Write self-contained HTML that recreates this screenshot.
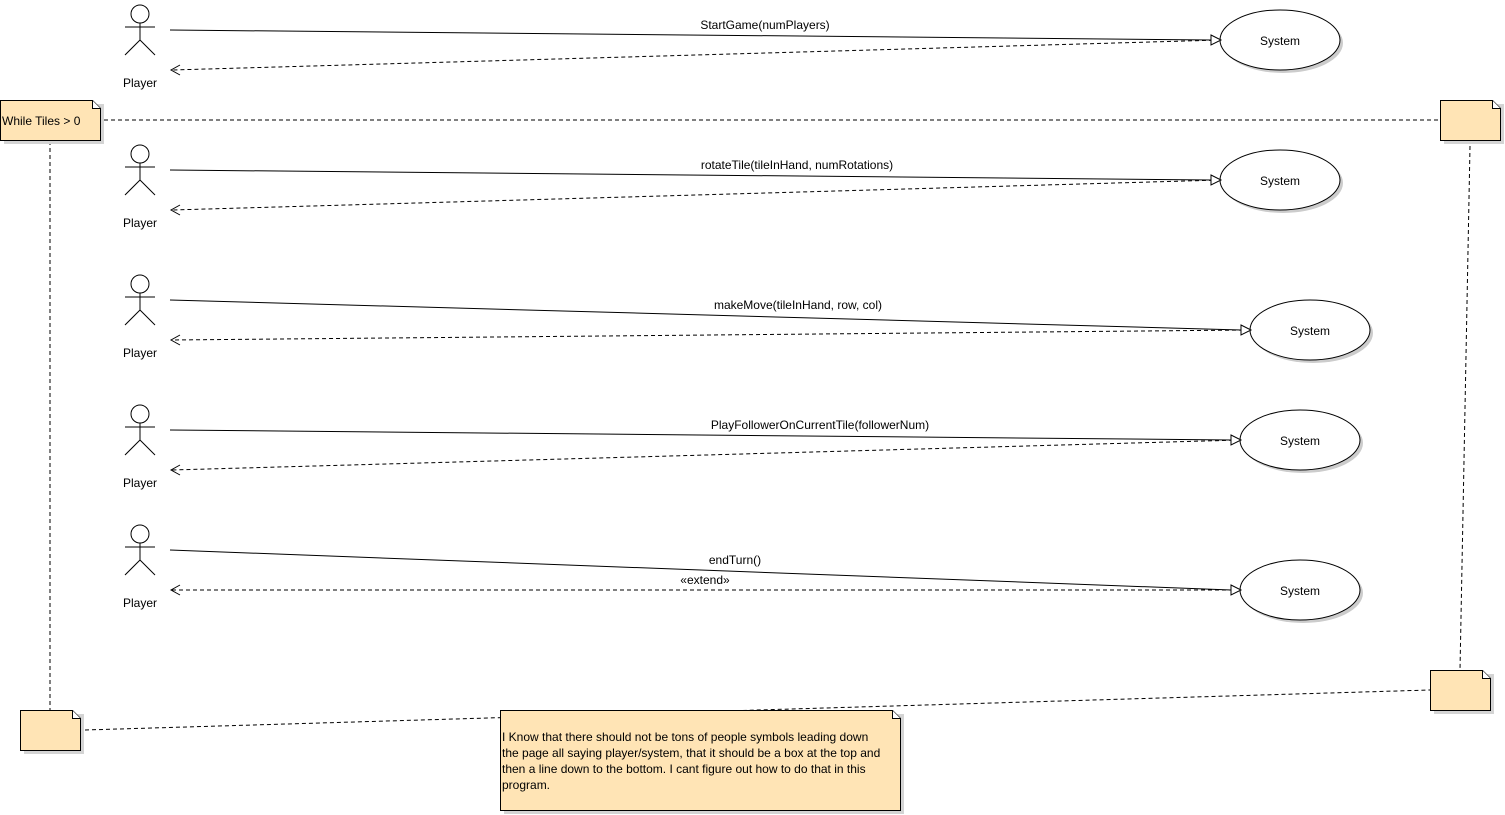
<!DOCTYPE html>
<html><head><meta charset="utf-8"><style>
html,body{margin:0;padding:0;background:#fff;}
svg{display:block;}
text{font-family:"Liberation Sans",sans-serif;font-size:12px;fill:#000;}
</style></head><body>
<svg width="1505" height="815" xmlns="http://www.w3.org/2000/svg">
<defs>
<g id="actor" fill="none" stroke="#000" stroke-width="1">
  <circle cx="140" cy="14" r="9" fill="#fff"/>
  <line x1="140" y1="23" x2="140" y2="40"/>
  <line x1="125" y1="27" x2="155" y2="27"/>
  <line x1="140" y1="40" x2="125" y2="55"/>
  <line x1="140" y1="40" x2="155" y2="55"/>
</g>
<g id="note1">
</g>
</defs>

<!-- dashed connectors -->
<g stroke="#000" stroke-dasharray="4,3" fill="none">
  <line x1="104" y1="120" x2="1440" y2="120"/>
  <line x1="50" y1="141" x2="50" y2="710"/>
  <line x1="1470" y1="146" x2="1460" y2="670"/>
  <line x1="85" y1="730" x2="1430" y2="690"/>
</g>

<!-- actors -->
<use href="#actor" y="0"/>
<use href="#actor" y="140"/>
<use href="#actor" y="270"/>
<use href="#actor" y="400"/>
<use href="#actor" y="520"/>
<g text-anchor="middle">
<text x="140" y="87">Player</text>
<text x="140" y="227">Player</text>
<text x="140" y="357">Player</text>
<text x="140" y="487">Player</text>
<text x="140" y="607">Player</text>
</g>

<!-- ellipses -->
<g fill="#fff" stroke="#000">
  <ellipse cx="1283" cy="43" rx="60" ry="30" fill="#ccc" stroke="none"/>
  <ellipse cx="1280" cy="40" rx="60" ry="30"/>
  <ellipse cx="1283" cy="183" rx="60" ry="30" fill="#ccc" stroke="none"/>
  <ellipse cx="1280" cy="180" rx="60" ry="30"/>
  <ellipse cx="1313" cy="333" rx="60" ry="30" fill="#ccc" stroke="none"/>
  <ellipse cx="1310" cy="330" rx="60" ry="30"/>
  <ellipse cx="1303" cy="443" rx="60" ry="30" fill="#ccc" stroke="none"/>
  <ellipse cx="1300" cy="440" rx="60" ry="30"/>
  <ellipse cx="1303" cy="593" rx="60" ry="30" fill="#ccc" stroke="none"/>
  <ellipse cx="1300" cy="590" rx="60" ry="30"/>
</g>
<g text-anchor="middle">
<text x="1280" y="45">System</text>
<text x="1280" y="185">System</text>
<text x="1310" y="335">System</text>
<text x="1300" y="445">System</text>
<text x="1300" y="595">System</text>
</g>

<!-- messages -->
<g stroke="#000" fill="none">
  <line x1="170" y1="30" x2="1211" y2="40"/>
  <line x1="1220" y1="40" x2="172" y2="70" stroke-dasharray="4,3"/>
  <polyline points="180,65 171,70 180,75"/>
  <polygon points="1211,35 1221,40 1211,45" fill="#fff"/>

  <line x1="170" y1="170" x2="1211" y2="180"/>
  <line x1="1220" y1="180" x2="172" y2="210" stroke-dasharray="4,3"/>
  <polyline points="180,205 171,210 180,215"/>
  <polygon points="1211,175 1221,180 1211,185" fill="#fff"/>

  <line x1="170" y1="300" x2="1241" y2="330"/>
  <line x1="1250" y1="330" x2="172" y2="340" stroke-dasharray="4,3"/>
  <polyline points="180,335 171,340 180,345"/>
  <polygon points="1241,325 1251,330 1241,335" fill="#fff"/>

  <line x1="170" y1="430" x2="1231" y2="440"/>
  <line x1="1240" y1="440" x2="172" y2="470" stroke-dasharray="4,3"/>
  <polyline points="180,465 171,470 180,475"/>
  <polygon points="1231,435 1241,440 1231,445" fill="#fff"/>

  <line x1="170" y1="550" x2="1231" y2="590"/>
  <line x1="1240" y1="590" x2="172" y2="590" stroke-dasharray="4,3"/>
  <polyline points="180,585 171,590 180,595"/>
  <polygon points="1231,585 1241,590 1231,595" fill="#fff"/>
</g>
<g text-anchor="middle">
<text x="765" y="29">StartGame(numPlayers)</text>
<text x="797" y="169">rotateTile(tileInHand, numRotations)</text>
<text x="798" y="309">makeMove(tileInHand, row, col)</text>
<text x="820" y="429">PlayFollowerOnCurrentTile(followerNum)</text>
<text x="735" y="564">endTurn()</text>
<text x="705" y="584">«extend»</text>
</g>

<!-- notes -->
<g stroke="#000" stroke-width="1">
  <!-- top-left -->
  <rect x="4" y="104" width="100" height="40" fill="#d4d4d4" stroke="none"/>
  <path d="M0.5,100.5 H92.5 L100.5,108.5 V140.5 H0.5 Z" fill="#ffe4b5"/>
  <path d="M92.5,100.5 V108.5 H100.5" fill="#fff"/>
  <!-- top-right -->
  <rect x="1444" y="104" width="60" height="40" fill="#d4d4d4" stroke="none"/>
  <path d="M1440.5,100.5 H1492.5 L1500.5,108.5 V140.5 H1440.5 Z" fill="#ffe4b5"/>
  <path d="M1492.5,100.5 V108.5 H1500.5" fill="#fff"/>
  <!-- bottom-left -->
  <rect x="24" y="714" width="60" height="40" fill="#d4d4d4" stroke="none"/>
  <path d="M20.5,710.5 H72.5 L80.5,718.5 V750.5 H20.5 Z" fill="#ffe4b5"/>
  <path d="M72.5,710.5 V718.5 H80.5" fill="#fff"/>
  <!-- bottom-right -->
  <rect x="1434" y="674" width="60" height="40" fill="#d4d4d4" stroke="none"/>
  <path d="M1430.5,670.5 H1482.5 L1490.5,678.5 V710.5 H1430.5 Z" fill="#ffe4b5"/>
  <path d="M1482.5,670.5 V678.5 H1490.5" fill="#fff"/>
  <!-- big note -->
  <rect x="504" y="714" width="400" height="100" fill="#d4d4d4" stroke="none"/>
  <path d="M500.5,710.5 H892.5 L900.5,718.5 V810.5 H500.5 Z" fill="#ffe4b5"/>
  <path d="M892.5,710.5 V718.5 H900.5" fill="#fff"/>
</g>
<text x="2" y="125">While Tiles &gt; 0</text>
<text x="502" y="741">I Know that there should not be tons of people symbols leading down</text>
<text x="502" y="757">the page all saying player/system, that it should be a box at the top and</text>
<text x="502" y="773">then a line down to the bottom. I cant figure out how to do that in this</text>
<text x="502" y="789">program.</text>
</svg>
</body></html>
